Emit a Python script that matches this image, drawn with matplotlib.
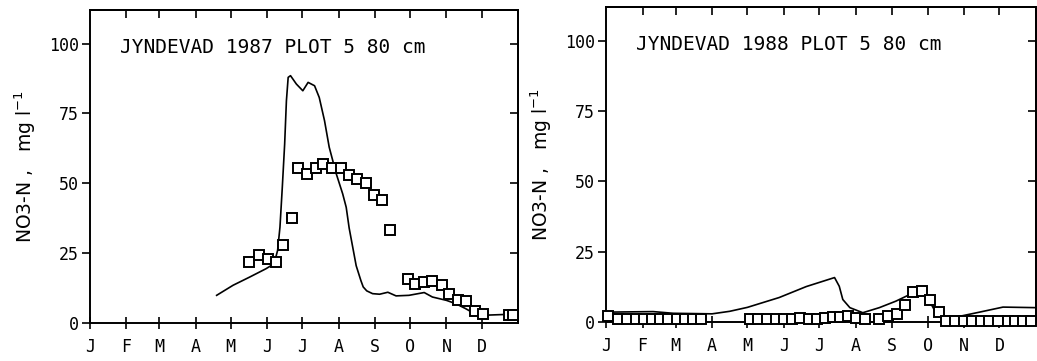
import matplotlib.pyplot as plt
import numpy as np

# Month labels and start day of each month
months = ["J", "F", "M", "A", "M", "J", "J", "A", "S", "O", "N", "D"]
month_start = [0, 31, 59, 90, 120, 151, 181, 212, 243, 273, 304, 334]

# 1987 - simulated (line)
sim87_day = [108, 122, 136, 150, 157, 160, 162, 164, 166, 167.5, 169, 171, 176, 181.5,
             186, 191.5, 195.5, 200, 204, 210, 215.5, 218.5, 221, 223, 227, 231, 233,
             236, 241, 247, 254, 261, 272, 285, 292, 304, 312, 320.5, 329, 337.5, 357, 365]
sim87_val = [9.9, 13.5, 16.4, 19.4, 21.2, 26, 34.3, 48.6, 64, 79.5, 87.9, 88.5, 85.5, 83.1,
             86.1, 84.9, 80.7, 72.4, 62.9, 53.4, 46.2, 41.4, 34, 29.5, 20.5, 15.2, 12.9,
             11.5, 10.5, 10.3, 11, 9.7, 9.9, 10.9, 9.3, 8.1, 6.9, 5.1, 3.1, 2.8, 3.1, 3.0]

# 1987 - measured (squares)
obs87_day = [136, 144, 152, 159, 165, 172.5, 177, 185, 193, 199, 206.5, 214, 220.5, 228,
             235.5, 242, 249, 256, 271, 277, 285, 292, 300, 306.5, 313.5, 320.5, 328, 335,
             357, 361]
obs87_val = [21.8, 24.2, 22.8, 21.8, 28, 37.6, 55.5, 53.4, 55.4, 56.9, 55.5, 55.4, 53, 51.7,
             50, 45.8, 44.1, 33.1, 15.9, 14.1, 14.6, 15, 13.5, 10.5, 8.4, 7.9, 4.3, 3.3,
             3, 3]

# 1988 - simulated (line)
sim88_day = [0, 40, 57, 90, 105, 120, 147, 170, 185, 194, 198, 201, 207, 218, 232, 246,
             258, 266, 273, 279, 286, 300, 317, 337, 365]
sim88_val = [3.5, 3.7, 3.1, 2.9, 3.8, 5.2, 8.7, 12.6, 14.6, 15.8, 12.7, 8.0, 5.1, 3.3, 5.1,
             7.4, 9.8, 10.4, 8.6, 4.1, 2.0, 2.0, 3.5, 5.3, 5.1]

# 1988 - measured (squares)
obs88_day = [2, 10.4, 18, 25.2, 32.2, 39.2, 45.8, 52.8, 59.9, 66.9, 74, 81,
             122, 129, 137, 144, 151, 158, 165, 172, 179, 186, 193, 199, 205, 212.5, 219.5,
             232, 239, 247, 253.5, 260.5, 268.5, 275, 282.5, 289, 296, 303.5, 311, 318.5,
             325.5, 333, 341, 347, 354, 361]
obs88_val = [2.0, 1.2, 1, 1, 1, 1, 0.9, 0.9, 1, 1, 0.9, 0.9,
             0.9, 0.9, 0.9, 1.0, 1.0, 1.1, 1.3, 1.0, 1.0, 1.3, 1.8, 1.8, 2.0, 1.4, 1.1,
             1.2, 2.2, 3.0, 5.9, 10.6, 11.2, 7.9, 3.5, 0.5, 0.2, 0.2, 0.3, 0.3,
             0.3, 0.3, 0.3, 0.3, 0.3, 0.2]

plt.rcParams["font.family"] = ["DejaVu Sans Mono", "DejaVu Sans"]
plt.rcParams["mathtext.fontset"] = "dejavusans"

fig = plt.figure(figsize=(10.37, 3.61), dpi=100)
ax1 = fig.add_axes([90 / 1037, 1 - 323 / 361, 428 / 1037, 313 / 361])
ax2 = fig.add_axes([606 / 1037, 1 - 322 / 361, 430 / 1037, 315 / 361])

panels = [
    (ax1, sim87_day, sim87_val, obs87_day, obs87_val, "JYNDEVAD 1987 PLOT 5 80 cm"),
    (ax2, sim88_day, sim88_val, obs88_day, obs88_val, "JYNDEVAD 1988 PLOT 5 80 cm"),
]

for ax, sd, sv, od, ov, title in panels:
    ax.plot(sd, sv, color="black", lw=1.2, zorder=2)
    ax.plot(od, ov, ls="none", marker="s", ms=6.5, mfc="white", mec="black", mew=1.4,
            zorder=3, clip_on=False)
    ax.set_xlim(0, 365)
    ax.set_ylim(0, 112)
    ax.set_xticks(month_start)
    ax.set_xticklabels(months)
    ax.set_yticks([0, 25, 50, 75, 100])
    ax.tick_params(axis="x", direction="inout", length=9, width=1.2, labelsize=12, pad=6)
    ax.tick_params(axis="y", direction="out", length=6, width=1.2, labelsize=12, pad=2)
    # inward ticks on the top and right frame
    top = ax.secondary_xaxis("top")
    top.set_xticks(month_start[1:])
    top.tick_params(direction="in", length=6, width=1.2, labeltop=False)
    right = ax.secondary_yaxis("right")
    right.set_yticks([25, 50, 75, 100])
    right.tick_params(direction="in", length=6, width=1.2, labelright=False)
    for s in ax.spines.values():
        s.set_linewidth(1.4)
    top.spines["top"].set_linewidth(1.4)
    right.spines["right"].set_linewidth(1.4)
    ax.set_ylabel("NO3-N ,   mg l$^{-1}$", fontsize=13.5, labelpad=8, family="DejaVu Sans")
    ax.text(0.07, 0.88, title, transform=ax.transAxes, fontsize=14, va="center", ha="left")

fig.savefig("out.png", dpi=100)
